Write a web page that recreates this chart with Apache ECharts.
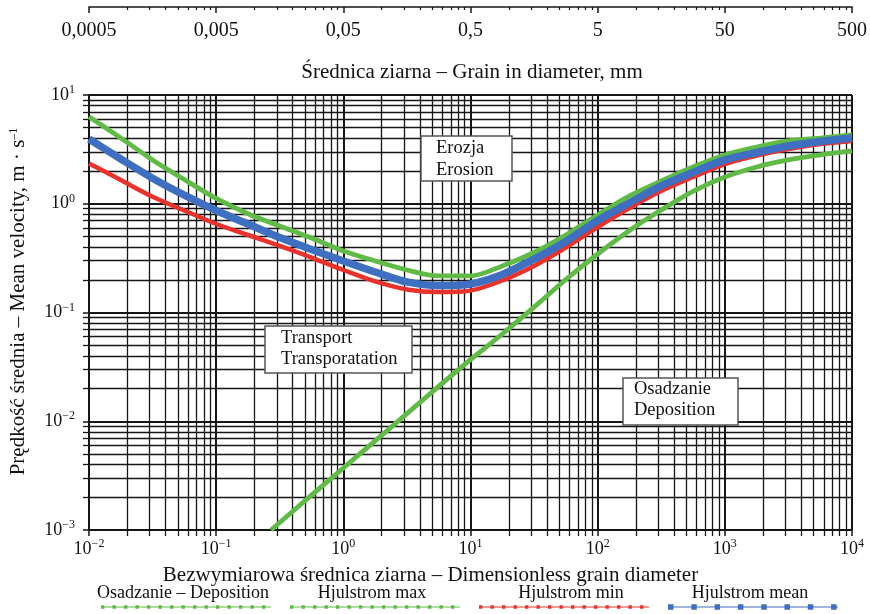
<!DOCTYPE html>
<html>
<head>
<meta charset="utf-8">
<script src="https://cdn.jsdelivr.net/npm/echarts@6/dist/echarts.min.js"></script>
<style>html,body{margin:0;padding:0;background:#fff}#c{width:870px;height:614px}</style>
</head>
<body>
<div id="c"></div>
<script>
// ---- data ----
const seriesNames = ['Osadzanie – Deposition', 'Hjulstrom max', 'Hjulstrom min', 'Hjulstrom mean'];
const bottomTickExp = ['−2', '−1', '0', '1', '2', '3', '4'];
const leftTickExp = ['−3', '−2', '−1', '0', '1'];
const topTickLabels = ['0,0005', '0,005', '0,05', '0,5', '5', '50', '500'];

// dimensionless grain diameter (quarter-decade steps)
const xDim   = [0.01, 0.0178, 0.0316, 0.0562, 0.1, 0.178, 0.316, 0.562, 1, 1.78, 3.16, 5.62, 10, 17.8, 31.6, 56.2, 100, 178, 316, 562, 1000, 1780, 3160, 5620, 10000];
const hjMax  = [6.32, 4.02, 2.53, 1.67, 1.12, 0.81, 0.624, 0.484, 0.368, 0.298, 0.246, 0.217, 0.217, 0.268, 0.356, 0.516, 0.788, 1.18, 1.62, 2.18, 2.81, 3.32, 3.78, 4.02, 4.29];
const hjMin  = [2.35, 1.65, 1.16, 0.867, 0.651, 0.516, 0.409, 0.320, 0.246, 0.193, 0.163, 0.154, 0.159, 0.197, 0.268, 0.396, 0.611, 0.914, 1.31, 1.76, 2.32, 2.78, 3.19, 3.54, 3.78];
const hjMean = [3.94, 2.58, 1.72, 1.20, 0.867, 0.651, 0.489, 0.380, 0.298, 0.236, 0.191, 0.177, 0.183, 0.224, 0.310, 0.450, 0.701, 1.02, 1.46, 1.94, 2.53, 2.96, 3.40, 3.74, 4.02];

const depX = [0.27, 0.562, 1, 1.78, 3.16, 5.62, 10, 17.8, 31.6, 56.2, 100, 178, 316, 562, 1000, 1780, 3160, 5620, 10000];
const depY = [0.001, 0.00209, 0.00372, 0.00661, 0.01175, 0.0209, 0.0369, 0.0634, 0.112, 0.201, 0.345, 0.568, 0.876, 1.30, 1.76, 2.18, 2.53, 2.81, 3.06];

// ---- styling ----
const FONT = '"Liberation Serif", "DejaVu Serif", serif';
const colors = ['#5fba46', '#5fba46', '#e8322b', '#3f6fc0'];
const widths = [4.8, 4.8, 4.5, 7.5];
const gridColor = '#161616';

function zip(xs, ys) { return xs.map((x, i) => [x, ys[i]]); }
const seriesData = [zip(depX, depY), zip(xDim, hjMax), zip(xDim, hjMin), zip(xDim, hjMean)];

function iconPath(step, sq) {
  let p = 'path://M0,3.4h170v1.2h-170z';
  for (let x = 0; x <= 170 - sq; x += step) {
    p += 'M' + x + ',' + (4 - sq / 2) + 'h' + sq + 'v' + sq + 'h-' + sq + 'z';
  }
  p += 'M0,0h0.01v8h-0.01z';
  return p;
}
const icons = [iconPath(11.5, 3.4), iconPath(11.5, 3.4), iconPath(11.5, 3.4), iconPath(23.3, 5.5)];

const supRich = {
  b: { fontFamily: FONT, fontSize: 18, color: '#111', lineHeight: 22 },
  s: { fontFamily: FONT, fontSize: 12, color: '#111', verticalAlign: 'top', lineHeight: 12, padding: [0, 0, 10, 0] }
};

const chart = echarts.init(document.getElementById('c'), null, { renderer: 'canvas' });

const legendCenters = [183, 372, 571, 750];

const option = {
  animation: false,
  backgroundColor: '#fff',
  grid: { left: 88, right: 17, top: 95, bottom: 84, containLabel: false },
  legend: {
    data: seriesNames.map((n, i) => ({ name: n, icon: icons[i] })),
    left: 95, top: 598,
    itemWidth: 172, itemHeight: 8, itemGap: 18,
    formatter: () => '',
    textStyle: { fontSize: 1 },
    selectedMode: false
  },
  xAxis: [
    {
      type: 'log', logBase: 10, min: 0.01, max: 10000, position: 'bottom',
      name: 'Bezwymiarowa średnica ziarna – Dimensionless grain diameter',
      nameLocation: 'middle', nameGap: 26,
      nameTextStyle: { fontFamily: FONT, fontSize: 21, color: '#111', padding: [0, 80, 0, 0] },
      axisLine: { show: true, lineStyle: { color: gridColor, width: 1.5 } },
      axisTick: { show: true, length: 6, lineStyle: { color: gridColor, width: 1.5 } },
      minorTick: { show: true, splitNumber: 9, length: 6, lineStyle: { color: gridColor, width: 1.3 } },
      splitLine: { show: true, lineStyle: { color: gridColor, width: 2 } },
      minorSplitLine: { show: true, lineStyle: { color: gridColor, width: 1.3 } },
      axisLabel: {
        margin: 8,
        formatter: (v, i) => '{b|10}{s|' + bottomTickExp[i] + '}',
        rich: supRich
      }
    },
    {
      type: 'log', logBase: 10, min: 0.01, max: 10000, position: 'top', offset: 88,
      axisLine: { show: true, lineStyle: { color: gridColor, width: 1.5 } },
      axisTick: { show: true, inside: true, length: 6, lineStyle: { color: gridColor, width: 1.5 } },
      minorTick: { show: true, splitNumber: 9, length: 3, lineStyle: { color: gridColor, width: 1.2 } },
      splitLine: { show: false },
      axisLabel: {
        inside: true, margin: 14,
        fontFamily: FONT, fontSize: 20, color: '#111',
        formatter: (v, i) => topTickLabels[i]
      }
    }
  ],
  yAxis: {
    type: 'log', logBase: 10, min: 0.001, max: 10,
    name: 'Prędkość średnia – Mean velocity, m · s{s|–1}',
    nameLocation: 'middle', nameGap: 60, nameRotate: 90,
    nameTextStyle: {
      fontFamily: FONT, fontSize: 21, color: '#111', padding: [0, 0, 0, 22],
      rich: { s: { fontFamily: FONT, fontSize: 12, color: '#111', verticalAlign: 'top', lineHeight: 12, padding: [0, 0, 12, 0] } }
    },
    axisLine: { show: true, lineStyle: { color: gridColor, width: 1.5 } },
    axisTick: { show: true, length: 6, lineStyle: { color: gridColor, width: 1.5 } },
    minorTick: { show: true, splitNumber: 9, length: 6, lineStyle: { color: gridColor, width: 1.3 } },
    splitLine: { show: true, lineStyle: { color: gridColor, width: 2 } },
    minorSplitLine: { show: true, lineStyle: { color: gridColor, width: 1.3 } },
    axisLabel: {
      margin: 14,
      formatter: (v, i) => '{b|10}{s|' + leftTickExp[i] + '}',
      rich: supRich
    }
  },
  series: seriesNames.map((n, i) => ({
    name: n, type: 'line', xAxisIndex: 0, yAxisIndex: 0,
    data: seriesData[i], smooth: 0.3, showSymbol: false, symbol: 'none',
    lineStyle: { color: colors[i], width: widths[i] },
    itemStyle: { color: colors[i] },
    z: 3 + i
  })),
  graphic: [
    { type: 'text', x: 472, y: 72, z: 100, style: { text: 'Średnica ziarna – Grain in diameter, mm', font: '21px ' + FONT, fill: '#111', align: 'center', verticalAlign: 'middle' } },
    ...seriesNames.map((n, i) => ({ type: 'text', x: legendCenters[i], y: 593, z: 100, style: { text: n, font: '18px ' + FONT, fill: '#111', align: 'center', verticalAlign: 'middle' } })),
    { type: 'rect', z: 100, shape: { x: 421, y: 136, width: 91, height: 45 }, style: { fill: '#fff', stroke: '#555', lineWidth: 1.5 } },
    { type: 'text', z: 101, x: 436, y: 137, style: { text: 'Erozja\nErosion', font: '18.5px ' + FONT, lineHeight: 22, fill: '#111', verticalAlign: 'top' } },
    { type: 'rect', z: 100, shape: { x: 265, y: 326, width: 147, height: 47 }, style: { fill: '#fff', stroke: '#555', lineWidth: 1.5 } },
    { type: 'text', z: 101, x: 281, y: 328, style: { text: 'Transport\nTransporatation', font: '18.5px ' + FONT, lineHeight: 21, fill: '#111', verticalAlign: 'top' } },
    { type: 'rect', z: 100, shape: { x: 623, y: 378, width: 115, height: 47 }, style: { fill: '#fff', stroke: '#555', lineWidth: 1.5 } },
    { type: 'text', z: 101, x: 634, y: 379, style: { text: 'Osadzanie\nDeposition', font: '18.5px ' + FONT, lineHeight: 21, fill: '#111', verticalAlign: 'top' } }
  ]
};
chart.setOption(option);
</script>
</body>
</html>
